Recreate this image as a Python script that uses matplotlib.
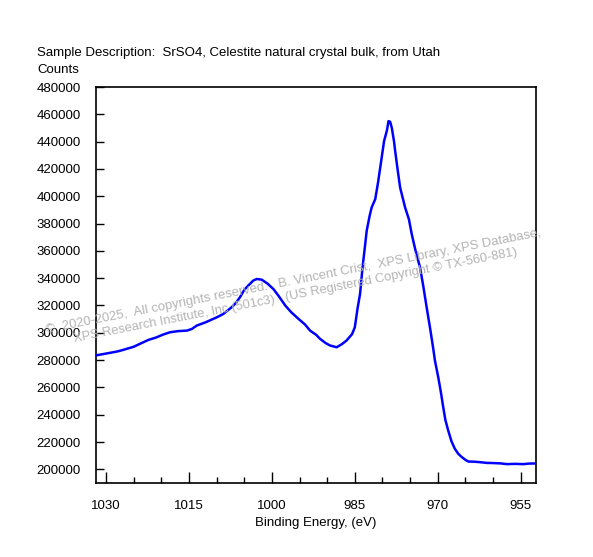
import matplotlib
matplotlib.use("Agg")
import matplotlib.pyplot as plt
from matplotlib.ticker import FixedLocator, MultipleLocator

plt.rcParams['font.family'] = ['Liberation Sans', 'DejaVu Sans']

# binding energy (eV) and counts
energy = [1031.8, 1030.0, 1028.0, 1026.9, 1025.0, 1023.9, 1022.35, 1021.0,
          1019.7, 1018.45, 1017.0, 1015.4, 1014.5, 1013.6, 1012.0, 1010.0,
          1008.8, 1007.3, 1006.5, 1005.8, 1005.0, 1004.3, 1003.4, 1002.75,
          1001.85, 1000.8, 999.75, 998.8, 997.6, 996.5, 995.2, 994.0, 993.1,
          992.0, 991.3, 990.3, 989.5, 988.3, 987.4, 986.5, 985.5, 985.0,
          984.5, 984.05, 983.6, 983.2, 982.85, 982.3, 981.95, 981.3, 980.8,
          980.4, 979.7, 979.2, 978.9, 978.6, 978.3, 977.9, 977.7, 977.2,
          976.8, 975.9, 975.2, 974.7, 974.0, 973.2, 972.6, 972.0, 971.4,
          970.8, 970.5, 969.9, 969.4, 969.0, 968.6, 968.1, 967.5, 966.9,
          966.3, 965.65, 965.0, 964.45, 963.5, 962.5, 961.1, 960.0, 958.5,
          957.5, 956.0, 954.5, 953.5, 952.2]
counts = [283500, 284800, 286300, 287500, 289800, 291900, 294800, 296500,
          298700, 300400, 301200, 301600, 302800, 305300, 307700, 311300,
          313800, 318700, 322000, 326000, 331500, 334500, 338200, 339400,
          338900, 336000, 332100, 327000, 320000, 315000, 310200, 306000, 301600,
          298500, 295600, 292500, 290700, 289400, 291500, 294300, 299000, 304000,
          318000, 328500, 348000, 362000, 374700, 386000, 391800, 397900, 410000,
          421000, 440500, 448000, 455000, 454500, 450000, 440000, 433200, 418000,
          406400, 391800, 383000, 372300, 360000, 347900, 334000, 318700, 304000,
          288300, 279700, 267500, 256000, 245600, 236000, 228500, 220500, 215100,
          211500, 209000, 207000, 205700, 205600, 205300, 204700, 204600, 204300,
          203800, 204000, 203800, 204200, 204300]

xticks = [1030, 1015, 1000, 985, 970, 955]
xminor = [1025, 1020, 1010, 1005, 995, 990, 980, 975, 965, 960]

title = "Sample Description:  SrSO4, Celestite natural crystal bulk, from Utah"
watermark1 = "\u00a9  2020-2025,  All copyrights reserved.   B. Vincent Crist,  XPS Library, XPS Database,"
watermark2 = "XPS Research Institute, Inc (501c3)   (US Registered Copyright \u00a9 TX-560-881)"

fig = plt.figure(figsize=(5.93, 5.57), dpi=100)
ax = fig.add_axes([0.1619, 0.1329, 0.7420, 0.7109])

ax.plot(energy, counts, color='#0000ff', lw=1.8, zorder=3)

ax.set_xlim(1031.85, 952.2)
ax.set_ylim(190000, 480000)
ax.set_xticks(xticks)
ax.set_xticklabels([str(t) for t in xticks])
ax.xaxis.set_minor_locator(FixedLocator(xminor))
ax.yaxis.set_major_locator(MultipleLocator(20000))
ax.tick_params(axis='x', which='major', direction='in', length=8, width=1,
               pad=12, labelsize=9.5)
ax.tick_params(axis='x', which='minor', direction='in', length=4, width=1)
ax.tick_params(axis='y', which='major', direction='in', length=6, width=1,
               pad=11, labelsize=9.5)
for s in ax.spines.values():
    s.set_linewidth(1.2)

ax.set_xlabel("Binding Energy, (eV)", fontsize=9.5, labelpad=4)

fig.text(37 / 593, 1 - 53 / 557, title, fontsize=9.5, va='center', ha='left')
fig.text(37 / 593, 1 - 70 / 557, "Counts", fontsize=9.5, va='center', ha='left')

# grey copyright watermark, drawn under the curve
fig.text(46 / 593, 1 - 333 / 557, watermark1, fontsize=9.45, color='#b4b4b4',
         rotation=11.1, rotation_mode='anchor', ha='left', va='baseline', zorder=1)
fig.text(74 / 593, 1 - 342 / 557, watermark2, fontsize=9.3, color='#b4b4b4',
         rotation=11.1, rotation_mode='anchor', ha='left', va='baseline', zorder=1)

fig.savefig("out.png", dpi=100)
